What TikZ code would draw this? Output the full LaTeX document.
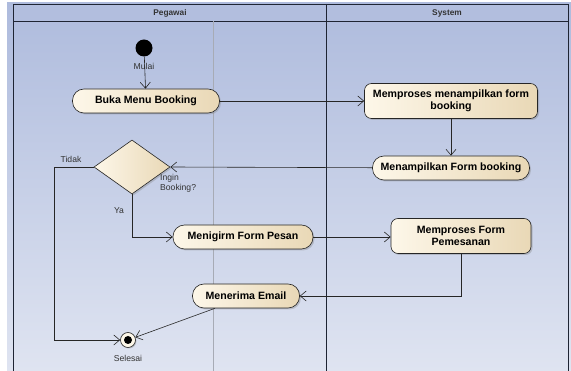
\documentclass[tikz,border=0pt]{standalone}
\usepackage{fontspec}
\setmainfont{Liberation Sans}
\usetikzlibrary{arrows.meta,shapes.geometric,shadows}
\definecolor{bgtop}{HTML}{AEBBDD}
\definecolor{bgbot}{HTML}{DFE4F1}
\definecolor{hdr}{HTML}{B2BEDE}
\definecolor{creamL}{HTML}{FDF7E9}
\definecolor{creamR}{HTML}{E9D8B6}
\definecolor{laneln}{HTML}{1E2433}
\begin{document}
\begin{tikzpicture}[x=1pt,y=-1pt,
  act/.style={draw=black!85, line width=0.6pt, left color=creamL, right color=creamR,
    font=\bfseries\fontsize{10.6}{12}\selectfont, align=center, inner sep=0pt,
    drop shadow={opacity=0.35, shadow xshift=1.5pt, shadow yshift=-1.5pt}},
  stad/.style={act, rounded corners=11.5pt, minimum height=24pt},
  rbox/.style={act, rounded corners=7pt, minimum height=35pt},
  flow/.style={draw=black!85, line width=0.6pt, -{Straight Barb[length=6pt,width=10pt]}},
  lbl/.style={font=\fontsize{8.6}{10.5}\selectfont, text=black!80, inner sep=0pt},
  hlbl/.style={font=\bfseries\fontsize{8.3}{10}\selectfont, text=black!80, inner sep=0pt}]
\useasboundingbox (0,0) rectangle (571,371);
\fill[white] (0,0) rectangle (571,371);
\fill[top color=bgtop, bottom color=bgbot] (7,3) rectangle (571,371);
\fill[hdr] (13,4) rectangle (568,21);
\draw[laneln, line width=0.8pt] (13,371) -- (13,4) -- (568,4) -- (568,371);
\draw[laneln, line width=0.8pt] (13,21) -- (568,21);
\draw[laneln, line width=0.8pt] (326,4) -- (326,371);
\draw[color=black!25!bgbot, line width=0.5pt] (213,21) -- (213,371);
\node[hlbl] (hpeg) at (170,13) {Pegawai};
\node[hlbl] (hsys) at (447,13) {System};

\node[circle, fill=black, minimum size=17pt, inner sep=0pt] (start) at (144,48) {};
\node[stad, minimum width=147pt] (buka) at (146,101) {Buka Menu Booking};
\node[rbox, minimum width=173pt] (proses1) at (451,101) {Memproses menampilkan form\\booking};
\node[stad, minimum width=157pt] (tampil) at (451,168) {Menampilkan Form booking};
\node[diamond, draw=black!85, line width=0.6pt, left color=creamL, right color=creamR,
  minimum width=76pt, minimum height=54pt, inner sep=0pt, aspect=1.4,
  drop shadow={opacity=0.35, shadow xshift=1.5pt, shadow yshift=-1.5pt}] (dec) at (132,167) {};
\node[stad, minimum width=140pt] (kirim) at (243,237) {Menigirm Form Pesan};
\node[rbox, minimum width=140pt] (proses2) at (461,236) {Memproses Form\\Pemesanan};
\node[stad, minimum width=107pt] (terima) at (246,296) {Menerima Email};
\node[circle, draw=black!85, line width=0.6pt, fill=creamL, minimum size=15pt, inner sep=0pt,
  drop shadow={opacity=0.35, shadow xshift=1pt, shadow yshift=-1pt}] (end) at (128,340) {};
\node[circle, fill=black, minimum size=8pt, inner sep=0pt] (enddot) at (end.center) {};

\node[lbl] (mulai) at (144,66) {Mulai};
\node[lbl] (selesai) at (128,358) {Selesai};
\node[lbl, anchor=north west, align=left] (ingin) at (160,174) {Ingin\\Booking?};
\node[lbl] (tidak) at (71,159) {Tidak};
\node[lbl] (ya) at (119,211) {Ya};

\coordinate (tk) at (54,167);
\draw[flow] (start) -- (buka);
\draw[flow] (buka) -- (proses1);
\draw[flow] (proses1) -- (tampil);
\draw[flow] (tampil) -- (dec.east);
\draw[flow] (dec.west) -- (tk) |- (end);
\draw[flow] (dec.south) |- (kirim.west);
\draw[flow] (kirim) -- (kirim -| proses2.west);
\draw[flow] (proses2.south) |- (terima.east);
\draw[flow] ([xshift=-31pt]terima.south) -- (end);
\end{tikzpicture}
\end{document}
